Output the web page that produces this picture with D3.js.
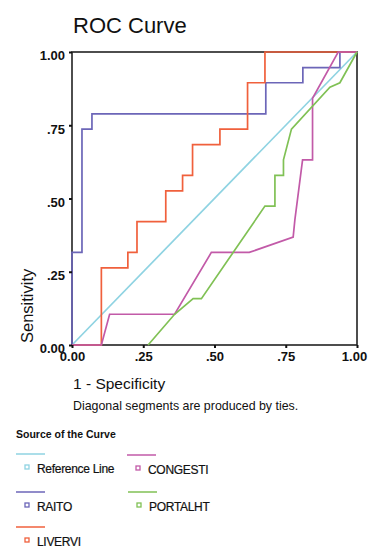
<html>
<head>
<script src="https://d3js.org/d3.v7.min.js"></script>
<style>
  body { margin: 0; background: #fff; }
  text { font-family: Arial, "Liberation Sans", sans-serif; fill: #111; }
  .axis text { font-size: 13px; font-weight: bold; }
  .axis path { display: none; }
  .axis line { stroke: #111; stroke-width: 2; }
</style>
</head>
<body>
<svg id="chart" width="368" height="552"></svg>
<script>
// tick values and labels
var ticks = [0, 0.25, 0.5, 0.75, 1];
var tickLabels = ["0.00", ".25", ".50", ".75", "1.00"];

// ROC curves (1 - specificity, sensitivity)
var refX = [0, 1];
var refY = [0, 1];

var raitoX = [0, 0, 0.035, 0.035, 0.07, 0.07, 0.68, 0.68, 0.81, 0.81, 0.94, 0.94, 1];
var raitoY = [0, 0.316, 0.316, 0.737, 0.737, 0.789, 0.789, 0.895, 0.895, 0.947, 0.947, 1, 1];

var liverX = [0, 0.103, 0.103, 0.196, 0.196, 0.228, 0.228, 0.329, 0.329, 0.388, 0.388, 0.423, 0.423, 0.519, 0.519, 0.616, 0.616, 0.677, 0.677, 1];
var liverY = [0, 0, 0.263, 0.263, 0.316, 0.316, 0.421, 0.421, 0.526, 0.526, 0.579, 0.579, 0.684, 0.684, 0.737, 0.737, 0.895, 0.895, 1, 1];

var congestiX = [0, 0.103, 0.132, 0.36, 0.489, 0.622, 0.776, 0.782, 0.809, 0.844, 0.844, 0.934, 1];
var congestiY = [0, 0, 0.105, 0.105, 0.316, 0.316, 0.368, 0.427, 0.632, 0.632, 0.842, 1, 1];

var portalX = [0.267, 0.36, 0.425, 0.454, 0.677, 0.712, 0.712, 0.742, 0.742, 0.77, 0.905, 0.94, 1];
var portalY = [0, 0.105, 0.158, 0.158, 0.474, 0.474, 0.579, 0.579, 0.632, 0.737, 0.88, 0.895, 1];

var seriesNames = ["Reference Line", "CONGESTI", "RAITO", "PORTALHT", "LIVERVI"];
var seriesColors = ["#8fd3e2", "#c25aa8", "#6c66b8", "#80c155", "#f0603c"];

var svg = d3.select("#chart");

var x = d3.scaleLinear().domain([0, 1]).range([72, 357]);
var y = d3.scaleLinear().domain([0, 1]).range([345, 52]);

svg.append("text")
  .attr("x", 73).attr("y", 33)
  .style("font-size", "22px")
  .text("ROC Curve");

// frame
svg.append("rect")
  .attr("x", x(0)).attr("y", y(1))
  .attr("width", x(1) - x(0)).attr("height", y(0) - y(1))
  .attr("fill", "none").attr("stroke", "#222").attr("stroke-width", 1.6);

var lineGen = d3.line()
  .x(function(d) { return x(d[0]); })
  .y(function(d) { return y(d[1]); });

function pts(xs, ys) {
  return xs.map(function(v, i) { return [v, ys[i]]; });
}

var curves = [
  { name: "Reference Line", data: pts(refX, refY) },
  { name: "RAITO", data: pts(raitoX, raitoY) },
  { name: "LIVERVI", data: pts(liverX, liverY) },
  { name: "CONGESTI", data: pts(congestiX, congestiY) },
  { name: "PORTALHT", data: pts(portalX, portalY) }
];

curves.forEach(function(c) {
  svg.append("path")
    .attr("d", lineGen(c.data))
    .attr("fill", "none")
    .attr("stroke", seriesColors[seriesNames.indexOf(c.name)])
    .attr("stroke-width", 1.7);
});

var xAxis = d3.axisBottom(x).tickValues(ticks)
  .tickFormat(function(d, i) { return tickLabels[i]; })
  .tickSize(3).tickPadding(4);
var yAxis = d3.axisLeft(y).tickValues(ticks)
  .tickFormat(function(d, i) { return tickLabels[i]; })
  .tickSize(3).tickPadding(4);

svg.append("g").attr("class", "axis")
  .attr("transform", "translate(0," + y(0) + ")")
  .call(xAxis)
  .selectAll("text")
  .attr("dx", function(d) { return d === 1 ? -3 : 0; });
svg.append("g").attr("class", "axis")
  .attr("transform", "translate(" + x(0) + ",0)")
  .call(yAxis)
  .selectAll("text").attr("dy", "0.6em");

svg.append("text")
  .attr("transform", "translate(33," + (y(0) - 2) + ") rotate(-90)")
  .style("font-size", "16.5px")
  .text("Sensitivity");

svg.append("text")
  .attr("x", 73).attr("y", 389)
  .style("font-size", "15.5px")
  .text("1 - Specificity");

svg.append("text")
  .attr("x", 73).attr("y", 410)
  .style("font-size", "12.4px")
  .text("Diagonal segments are produced by ties.");

// legend
svg.append("text")
  .attr("x", 16).attr("y", 438)
  .style("font-size", "10.5px").style("font-weight", "bold")
  .text("Source of the Curve");

var legendPos = [[16, 454], [127, 455], [16, 492], [128, 492], [16, 527]];

var leg = svg.selectAll(".leg").data(seriesNames).enter().append("g")
  .attr("class", "leg")
  .attr("transform", function(d, i) { return "translate(" + legendPos[i][0] + "," + legendPos[i][1] + ")"; });

leg.append("line")
  .attr("x1", 0).attr("x2", 29).attr("y1", 0).attr("y2", 0)
  .attr("stroke", function(d, i) { return seriesColors[i]; })
  .attr("stroke-width", 1.5);

leg.append("rect")
  .attr("x", 9).attr("y", 11).attr("width", 4).attr("height", 4)
  .attr("fill", "none")
  .attr("stroke", function(d, i) { return seriesColors[i]; })
  .attr("stroke-width", 1.3);

leg.append("text")
  .attr("x", 21).attr("y", 19)
  .style("font-size", "12px")
  .style("letter-spacing", "-0.3px")
  .style("stroke", "#111").style("stroke-width", 0.2)
  .text(function(d) { return d; });
</script>
</body>
</html>
